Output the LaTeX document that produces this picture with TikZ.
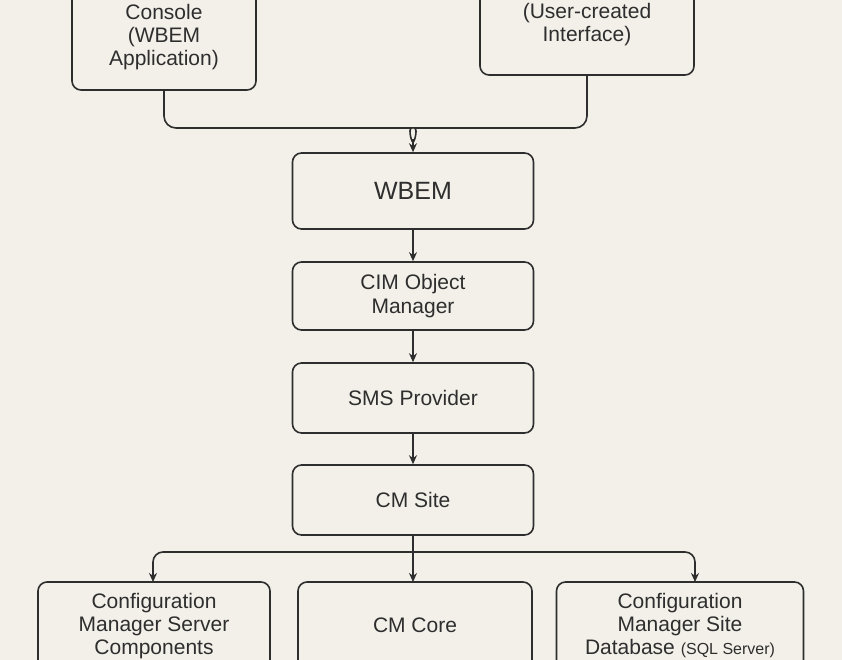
\documentclass[tikz,border=0pt]{standalone}
\usepackage{fontspec}
\setmainfont{Liberation Sans}
\usetikzlibrary{arrows.meta}
\definecolor{bg}{HTML}{F3F0E9}
\definecolor{ln}{HTML}{2E2E2E}
\begin{document}
\begin{tikzpicture}[x=1pt,y=-1pt,
  box/.style={draw=ln,line width=1.6pt,rounded corners=9pt,fill=bg,align=center,font=\fontsize{21}{24}\selectfont,text=ln,inner sep=0pt},
  arr/.style={draw=ln,line width=1.6pt,-{Stealth[length=9pt,width=8pt]}},
  ln/.style={draw=ln,line width=1.6pt}]
\fill[bg] (0,0) rectangle (842,660);
\useasboundingbox (0,0) rectangle (842,660);
\begin{scope}
\clip (0,0) rectangle (842,660);
\node[box,minimum width=184pt,minimum height=130pt] (con) at (164,25) {};
\node[text=ln,font=\fontsize{21}{23}\selectfont,align=center] (cont) at (164,37) {Console\\(WBEM\\Application)};
\node[box,minimum width=214pt,minimum height=130pt] (usr) at (587,10) {};
\node[text=ln,font=\fontsize{21}{23}\selectfont,align=center] (usrt) at (587,25) {(User-created\\Interface)};
\node[box,minimum width=241pt,minimum height=76pt,font=\fontsize{25}{28}\selectfont] (wbem) at (413,191) {WBEM};
\node[box,minimum width=241pt,minimum height=68pt] (cim) at (413,296) {CIM Object\\Manager};
\node[box,minimum width=241pt,minimum height=70pt] (sms) at (413,398) {SMS Provider};
\node[box,minimum width=241pt,minimum height=70pt] (site) at (413,500) {CM Site};
\node[box,minimum width=232pt,minimum height=110pt] (srv) at (154,637) {};
\node[text=ln,font=\fontsize{21}{23}\selectfont,align=center] (srvt) at (154,626) {Configuration\\Manager Server\\Components};
\node[box,minimum width=234pt,minimum height=110pt] (core) at (415,637) {};
\node[text=ln,font=\fontsize{21}{23}\selectfont] (coret) at (415,625) {CM Core};
\node[box,minimum width=247pt,minimum height=110pt] (db) at (680,637) {};
\node[text=ln,font=\fontsize{21}{23}\selectfont,align=center] (dbt) at (680,626) {Configuration\\Manager Site\\Database {\fontsize{16}{18}\selectfont(SQL Server)}};
\coordinate (j1) at (413,128);
\coordinate (j2) at (413,552);
\draw[ln,rounded corners=12pt] (con.south) -- (164,128) -- (400,128) to[out=0,in=-90] (413,140);
\draw[ln,rounded corners=12pt] (usr.south) -- (587,128) -- (426,128) to[out=180,in=-90] (413,140);
\draw[arr] (413,139) -- (wbem.north);
\draw[arr] (wbem.south) -- (cim.north);
\draw[arr] (cim.south) -- (sms.north);
\draw[arr] (sms.south) -- (site.north);
\draw[ln] (site.south) -- (j2);
\draw[arr,rounded corners=10pt] (j2) -- (153,552) -- (153,582);
\draw[arr,rounded corners=10pt] (j2) -- (695,552) -- (695,582);
\draw[arr] (j2) -- (413,582);
\end{scope}
\end{tikzpicture}
\end{document}
